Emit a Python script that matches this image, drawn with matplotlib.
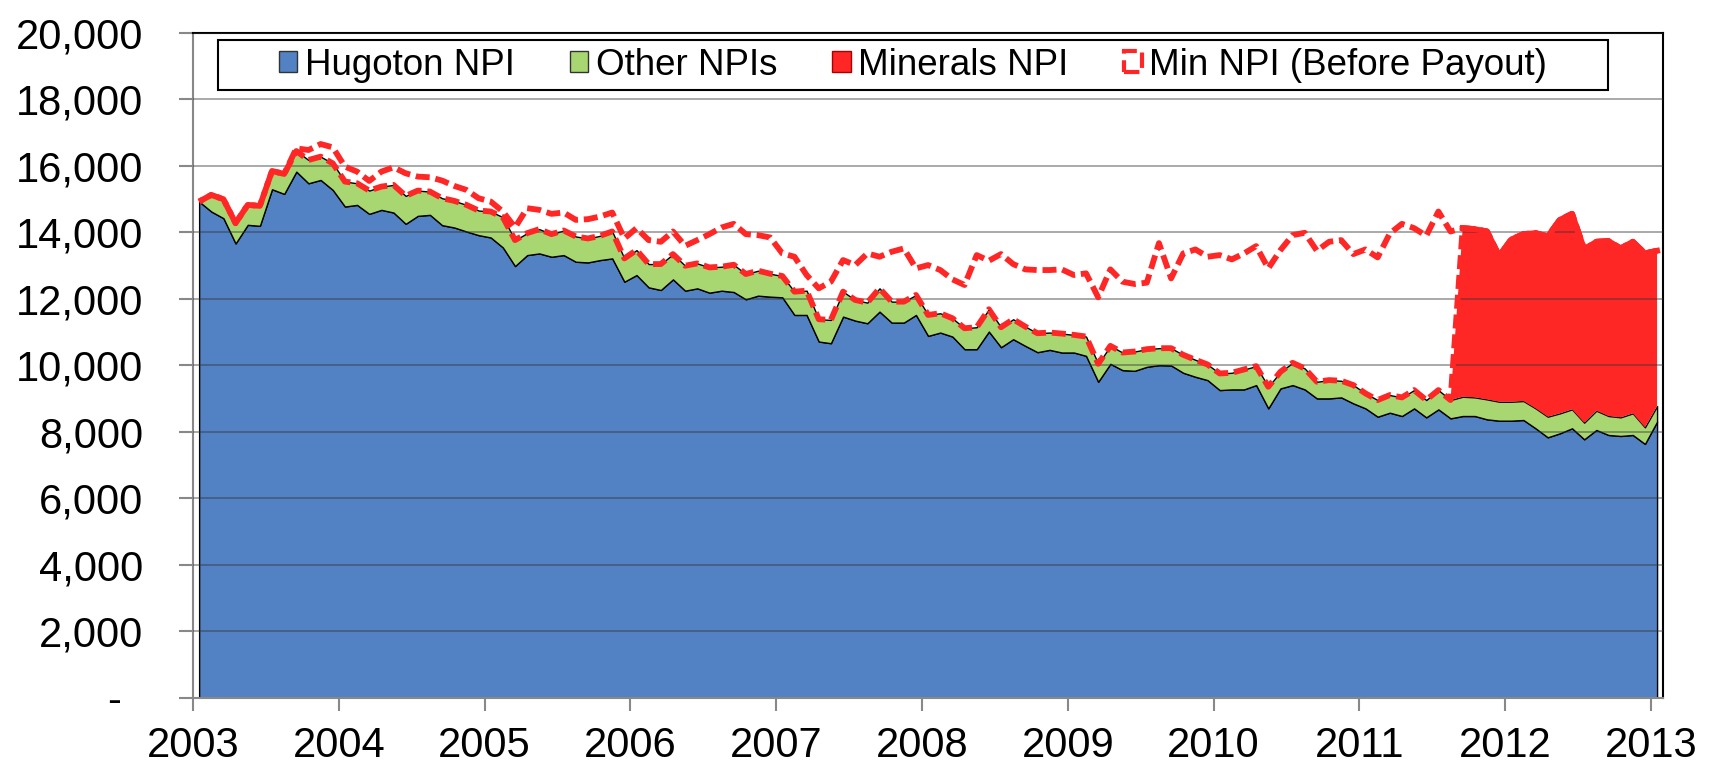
import matplotlib
matplotlib.use("Agg")
import matplotlib.pyplot as plt
import numpy as np
from matplotlib.patches import Patch, Rectangle
from matplotlib.transforms import ScaledTranslation

plt.rcParams['font.family'] = ['Liberation Sans', 'DejaVu Sans']

# monthly values, Jan 2003 .. Jan 2013
years = list(range(2003, 2014))

hugoton = [
    14930, 14630, 14430, 13670, 14230, 14200, 15300, 15160, 15830, 15480, 15580, 15280,
    14780, 14830, 14560, 14680, 14600, 14260, 14500, 14530, 14220, 14150, 14030, 13920,
    13850, 13550, 12990, 13320, 13370, 13270, 13320, 13120, 13100, 13170, 13220, 12520,
    12720, 12350, 12270, 12590, 12250, 12320, 12190, 12250, 12210, 11990, 12100, 12070,
    12050, 11520, 11520, 10720, 10670, 11470, 11350, 11270, 11620, 11290, 11290, 11520,
    10890, 10990, 10870, 10490, 10490, 11020, 10550, 10790, 10590, 10400, 10470, 10390,
    10390, 10290, 9510, 10050, 9860, 9840, 9960, 10010, 10000, 9780, 9660, 9560,
    9260, 9280, 9280, 9410, 8710, 9310, 9410, 9280, 9010, 9010, 9040, 8860,
    8710, 8460, 8580, 8480, 8710, 8440, 8680, 8410, 8480, 8480, 8380, 8340,
    8340, 8360, 8110, 7840, 7960, 8110, 7780, 8060, 7910, 7880, 7910, 7640,
    8310,
]

other_npis = [
    0, 500, 570, 610, 600, 600, 550, 600, 620, 700, 700, 800,
    750, 650, 700, 700, 830, 840, 760, 700, 810, 800, 800, 740,
    780, 910, 780, 660, 730, 680, 740, 760, 720, 730, 810, 700,
    750, 700, 780, 760, 750, 750, 760, 720, 820, 760, 750, 690,
    640, 700, 730, 670, 700, 750, 620, 620, 700, 630, 630, 600,
    630, 580, 550, 630, 660, 670, 600, 600, 580, 570, 520, 570,
    530, 580, 540, 540, 530, 580, 530, 510, 520, 540, 510, 470,
    500, 500, 600, 570, 650, 500, 670, 630, 500, 550, 500, 550,
    450, 500, 530, 560, 550, 520, 580, 550, 580, 560, 600, 570,
    570, 570, 600, 620, 600, 570, 500, 580, 570, 560, 650, 500,
    470,
]

minerals_npi = [
    0, 0, 0, 0, 0, 0, 0, 0, 0, 0, 0, 0,
    0, 0, 0, 0, 0, 0, 0, 0, 0, 0, 0, 0,
    0, 0, 0, 0, 0, 0, 0, 0, 0, 0, 0, 0,
    0, 0, 0, 0, 0, 0, 0, 0, 0, 0, 0, 0,
    0, 0, 0, 0, 0, 0, 0, 0, 0, 0, 0, 0,
    0, 0, 0, 0, 0, 0, 0, 0, 0, 0, 0, 0,
    0, 0, 0, 0, 0, 0, 0, 0, 0, 0, 0, 0,
    0, 0, 0, 0, 0, 0, 0, 0, 0, 0, 0, 0,
    0, 0, 0, 0, 0, 0, 0, 0, 5070, 5060, 5050, 4380,
    4880, 5020, 5270, 5420, 5820, 5880, 5210, 5080, 5260, 5080, 5160, 5230,
    4670,
]

min_npi_before_payout = [
    14930, 15130, 15000, 14280, 14830, 14800, 15850, 15760, 16530, 16480, 16660, 16560,
    15980, 15830, 15550, 15830, 15960, 15780, 15680, 15660, 15560, 15400, 15280, 15030,
    14930, 14630, 14150, 14730, 14680, 14560, 14600, 14380, 14400, 14480, 14600, 13820,
    14130, 13770, 13720, 14030, 13600, 13770, 13950, 14150, 14260, 13950, 13920, 13850,
    13370, 13270, 12720, 12320, 12520, 13170, 13020, 13370, 13270, 13420, 13520, 12920,
    13020, 12870, 12590, 12420, 13320, 13150, 13350, 13050, 12890, 12870, 12870, 12890,
    12720, 12770, 12050, 12890, 12520, 12450, 12490, 13680, 12620, 13370, 13490, 13270,
    13320, 13190, 13370, 13590, 12920, 13470, 13920, 13990, 13450, 13720, 13770, 13350,
    13490, 13250, 13970, 14260, 14130, 13900, 14630, 14030, 14130, 14100, 14030, 13290,
    13790, 13950, 13980, 13880, 14380, 14560, 13490, 13720, 13740, 13520, 13720, 13370,
    13450,
]

blue = '#5282C3'
green = '#A8D670'
red = '#FF2626'

x = np.arange(len(hugoton))
h = np.array(hugoton)
t = h + np.array(other_npis)
m = t + np.array(minerals_npi)
payout = int(np.argmax(np.array(minerals_npi) > 0))

fig = plt.figure(figsize=(17.13, 7.65), dpi=100)
ax = fig.add_axes([0.1127, 0.0876, 0.8582, 0.8693])

ax.fill_between(x, 0, h, facecolor=blue, edgecolor='black', linewidth=1.0, zorder=2)
ax.fill_between(x, h, t, facecolor=green, edgecolor='black', linewidth=1.0, zorder=2)
ax.fill_between(x, t, m, facecolor=red, linewidth=0, zorder=2)

yt = np.arange(0, 20001, 2000)
for v in yt[1:]:
    ax.axhline(v, color='#333333', alpha=0.45, lw=1.3, zorder=3)

dash = (2.4, 1.0)
ax.plot(x, m, color=red, lw=4.2, ls=(0, dash), zorder=5)
ax.plot(x, min_npi_before_payout, color=red, lw=4.2, ls=(1.7, dash), zorder=5)
ax.plot(x[payout:], m[payout:], color=red, lw=4.2, zorder=5)

ax.set_xlim(-0.5, len(x) - 0.5)
ax.set_ylim(0, 20000)
ax.set_xticks(np.arange(0, len(x), 12) - 0.5)
ax.set_xticklabels([str(y) for y in years])
ax.set_yticks(yt)
ax.set_yticklabels(['-'] + [f'{v:,}' for v in yt[1:]])

for s in ['top', 'right']:
    ax.spines[s].set_color('black')
    ax.spines[s].set_linewidth(1.5)
for s in ['left', 'bottom']:
    ax.spines[s].set_color('#888888')
    ax.spines[s].set_linewidth(1.5)
ax.tick_params(axis='y', length=10, width=1.5, color='#888888', pad=26, labelsize=30)
ax.tick_params(axis='x', length=9, width=1.5, color='#888888', pad=11, labelsize=30)

zero_lab = ax.yaxis.get_major_ticks()[0].label1
zero_lab.set_transform(zero_lab.get_transform() + ScaledTranslation(-0.22, 0, fig.dpi_scale_trans))

# legend box
bx, by, bw, bh = 0.0173, 0.914, 0.945, 0.075
ax.add_patch(Rectangle((bx, by), bw, bh, transform=ax.transAxes, facecolor='white',
                       edgecolor='black', linewidth=1.5, zorder=6))
handles = [
    Patch(facecolor=blue, edgecolor='#333333', linewidth=1),
    Patch(facecolor=green, edgecolor='#333333', linewidth=1),
    Patch(facecolor=red, edgecolor='#aa0000', linewidth=1),
    Patch(facecolor='white', edgecolor=red, linewidth=3, linestyle='--'),
]
labels = ['Hugoton NPI', 'Other NPIs', 'Minerals NPI', 'Min NPI (Before Payout)']
leg = ax.legend(handles, labels, ncol=4, loc='center', bbox_to_anchor=(bx + bw / 2, by + bh / 2),
                frameon=False, fontsize=26.5, handlelength=0.5, handleheight=0.5,
                handletextpad=0.2, columnspacing=1.5, borderpad=0, borderaxespad=0)
leg.set_zorder(7)

fig.savefig('out.png', dpi=100)
